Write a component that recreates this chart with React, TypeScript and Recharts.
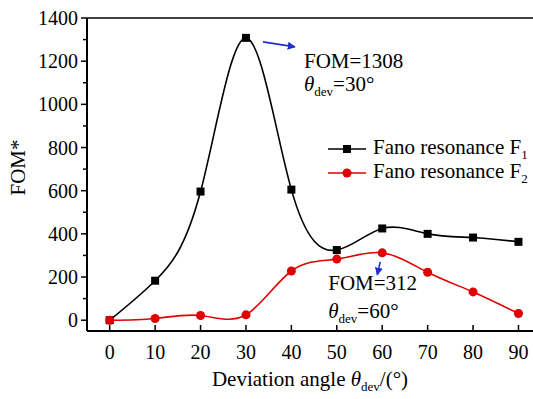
import { LineChart, Line, XAxis, YAxis, ReferenceLine, ReferenceDot } from "recharts";

const angles = [0, 10, 20, 30, 40, 50, 60, 70, 80, 90];
const fanoF1 = [0, 183, 596, 1308, 605, 325, 425, 400, 383, 363];
const fanoF2 = [0, 8, 22, 25, 228, 283, 312, 222, 131, 31];
const xTicks = [0, 10, 20, 30, 40, 50, 60, 70, 80, 90];
const yTicks = [0, 100, 200, 300, 400, 500, 600, 700, 800, 900, 1000, 1100, 1200, 1300, 1400];
const seriesNames = ["Fano resonance F", "Fano resonance F"];

const data = angles.map((a, i) => ({ angle: a, f1: fanoF1[i], f2: fanoF2[i] }));

const FONT = '"Liberation Serif", "Times New Roman", serif';
const ARROW = "#1f2fc8";

const YTick = (p: any) => {
    const v = p.payload.value;
    const major = v % 200 === 0;
    return (
        <g>
            <line x1={p.x - (major ? 6 : 4)} x2={p.x} y1={p.y} y2={p.y} stroke="#000" strokeWidth={1.5} />
            {major && (
                <text x={p.x - 9} y={p.y} dy={7} textAnchor="end" fontSize={20} fontFamily={FONT} fill="#000">{v}</text>
            )}
        </g>
    );
};

const XTick = (p: any) => (
    <g>
        <line x1={p.x} x2={p.x} y1={p.y} y2={p.y - 6} stroke="#000" strokeWidth={1.5} />
        <text x={p.x} y={p.y + 28} textAnchor="middle" fontSize={20} fontFamily={FONT} fill="#000">{p.payload.value}</text>
    </g>
);

const Square = (p: any) => (
    <rect key={`s${p.index}`} x={p.cx - 4} y={p.cy - 4} width={8} height={8} fill="#000" />
);
const Circle = (p: any) => (
    <circle key={`c${p.index}`} cx={p.cx} cy={p.cy} r={4.5} fill="#e00000" />
);

const Theta = ({ value }: { value: string }) => (
    <>
        <tspan fontStyle="italic">θ</tspan>
        <tspan fontSize={13} dy={5}>dev</tspan>
        <tspan dy={-5}>{value}</tspan>
    </>
);

const PeakNote1 = (p: any) => (
    <g fontFamily={FONT} fontSize={21} fill="#000">
        <line x1={p.cx + 17} y1={p.cy + 4} x2={p.cx + 49} y2={p.cy + 9} stroke={ARROW} strokeWidth={1.6} markerEnd="url(#arrowHead)" />
        <text x={p.cx + 58} y={p.cy + 30}>FOM=1308</text>
        <text x={p.cx + 58} y={p.cy + 53}><Theta value="=30°" /></text>
    </g>
);

const PeakNote2 = (p: any) => (
    <g fontFamily={FONT} fontSize={21} fill="#000">
        <line x1={p.cx - 2} y1={p.cy + 9} x2={p.cx - 5} y2={p.cy + 22} stroke={ARROW} strokeWidth={1.6} markerEnd="url(#arrowHead)" />
        <text x={p.cx - 54} y={p.cy + 37}>FOM=312</text>
        <text x={p.cx - 54} y={p.cy + 65}><Theta value="=60°" /></text>
    </g>
);

const LegendBox = () => {
    const rows = [
        { color: "#000", sq: true, sub: "1" },
        { color: "#e00000", sq: false, sub: "2" },
    ];
    return (
        <div style={{ position: "absolute", left: 328, top: 137, fontFamily: FONT, fontSize: 21, color: "#000", lineHeight: 1 }}>
            {rows.map((r, i) => (
                <div key={r.sub} style={{ display: "flex", alignItems: "center", height: 24 }}>
                    <svg width={38} height={12} style={{ marginRight: 7 }}>
                        <line x1={0} x2={38} y1={6} y2={6} stroke={r.color} strokeWidth={1.6} />
                        {r.sq ? <rect x={15} y={2} width={8} height={8} fill={r.color} /> : <circle cx={19} cy={6} r={4.5} fill={r.color} />}
                    </svg>
                    <span>{seriesNames[i]}<sub style={{ fontSize: 13 }}>{r.sub}</sub></span>
                </div>
            ))}
        </div>
    );
};

export default function App() {
    return (
        <div style={{ position: "absolute", left: 0, top: 0, width: 533, height: 399, background: "#fff" }}>
            <LineChart width={533} height={399} data={data} margin={{ top: 18, right: 0, left: 0, bottom: 0 }}>
                <defs>
                    <marker id="arrowHead" viewBox="0 0 10 10" refX="9" refY="5" markerWidth="5" markerHeight="5" orient="auto">
                        <path d="M0,0 L10,5 L0,10 z" fill={ARROW} />
                    </marker>
                </defs>
                <XAxis
                    dataKey="angle"
                    type="number"
                    domain={[-5, 93.2]}
                    ticks={xTicks}
                    tick={<XTick />}
                    tickSize={0}
                    tickMargin={0}
                    interval={0}
                    height={68}
                    axisLine={{ stroke: "#000", strokeWidth: 2 }}
                    tickLine={false}
                    label={(props: any) => {
                        const vb = props.viewBox;
                        return (
                            <text x={vb.x + vb.width / 2} y={vb.y + 55} textAnchor="middle" fontSize={21} fontFamily={FONT} fill="#000">
                                Deviation angle <Theta value="/(°)" />
                            </text>
                        );
                    }}
                />
                <YAxis
                    type="number"
                    domain={[-50, 1400]}
                    ticks={yTicks}
                    tick={<YTick />}
                    tickSize={0}
                    tickMargin={0}
                    interval={0}
                    width={87}
                    axisLine={{ stroke: "#000", strokeWidth: 2 }}
                    tickLine={false}
                    label={(props: any) => {
                        const vb = props.viewBox;
                        const cx = 18;
                        const cy = vb.y + vb.height / 2 - 7;
                        return (
                            <text x={cx} y={cy} transform={`rotate(-90 ${cx} ${cy})`} textAnchor="middle" dominantBaseline="central" fontSize={21} fontFamily={FONT} fill="#000">
                                FOM*
                            </text>
                        );
                    }}
                />
                <ReferenceLine y={1400} stroke="#000" strokeWidth={1.5} />
                <Line type="natural" dataKey="f1" stroke="#000" strokeWidth={1.6} dot={Square} isAnimationActive={false} name="F1" />
                <Line type="natural" dataKey="f2" stroke="#e00000" strokeWidth={1.6} dot={Circle} isAnimationActive={false} name="F2" />
                <ReferenceDot x={30} y={1308} r={0} shape={PeakNote1} />
                <ReferenceDot x={60} y={312} r={0} shape={PeakNote2} />
            </LineChart>
            <LegendBox />
        </div>
    );
}
